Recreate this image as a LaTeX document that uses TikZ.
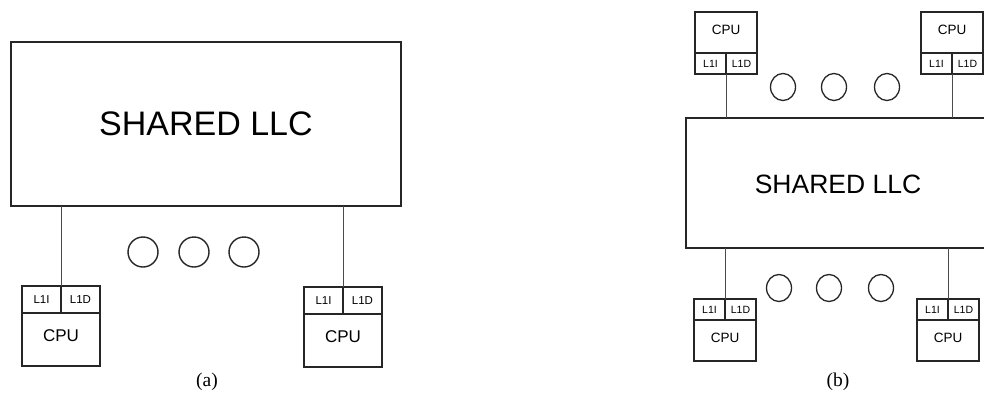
\documentclass[tikz,border=0pt]{standalone}
\usepackage{fontspec}
\setmainfont{Liberation Serif}
\newfontfamily\arialf{Liberation Sans}
\usetikzlibrary{positioning,shapes.geometric}
\begin{document}
\begin{tikzpicture}[x=1pt,y=-1pt,
  box/.style={draw=black!85, line width=1.4pt, rectangle, inner sep=0pt, outer sep=0pt, anchor=north west},
  llcA/.style={box, minimum width=390pt, minimum height=164pt, font=\arialf\fontsize{34}{40}\selectfont},
  llcB/.style={box, minimum width=320pt, minimum height=130pt, font=\arialf\fontsize{26.5}{30}\selectfont},
  cacheA/.style={box, minimum width=39pt, minimum height=27pt, font=\arialf\fontsize{11.5}{13}\selectfont},
  cpuA/.style={box, minimum width=78pt, minimum height=53pt, text depth=7pt, font=\arialf\fontsize{17}{20}\selectfont},
  cacheB/.style={box, minimum width=31pt, minimum height=21pt, font=\arialf\fontsize{10.5}{12}\selectfont},
  cpuB/.style={box, minimum width=62pt, minimum height=41pt, text depth=5pt, font=\arialf\fontsize{13.5}{16}\selectfont},
  divider/.style={draw=black!85, line width=2.4pt},
  dotA/.style={draw=black!85, line width=1.4pt, circle, minimum size=30pt, inner sep=0pt},
  dotB/.style={draw=black!85, line width=1.3pt, ellipse, minimum width=25pt, minimum height=27pt, inner sep=0pt},
  link/.style={draw=black!70, line width=0.8pt},
  caption/.style={font=\fontsize{19.5}{22}\selectfont, inner sep=0pt}
]
\useasboundingbox (0,0) rectangle (984,394);
\fill[white] (0,0) rectangle (984,394);

% ---------- (a) ----------
\node[llcA] (LA) at (11,42) {SHARED LLC};

\node[cacheA] (a1i) at (22,286) {L1I};
\node[cacheA] (a1d) at (a1i.north east) {L1D};
\node[cpuA] (a1c) at (a1i.south west) {CPU};
\draw[divider] (a1c.north west) -- (a1c.north east);

\node[cacheA] (a2i) at (304,287) {L1I};
\node[cacheA] (a2d) at (a2i.north east) {L1D};
\node[cpuA] (a2c) at (a2i.south west) {CPU};
\draw[divider] (a2c.north west) -- (a2c.north east);

\coordinate (la1) at (LA.south -| a1i.north east);
\coordinate (la2) at (LA.south -| a2i.north east);
\draw[link] (la1) -- (a1i.north east);
\draw[link] (la2) -- (a2i.north east);

\node[dotA] (ad1) at (143,252) {};
\node[dotA] (ad2) at (194,252) {};
\node[dotA] (ad3) at (244,252) {};

\node[caption] (capA) at (207,382) {(a)};

% ---------- (b) ----------
\node[llcB] (LB) at (686,118) {};
\node[font=\arialf\fontsize{26.5}{30}\selectfont, inner sep=0pt] (LBt) at (838,184) {SHARED LLC};

\node[cpuB] (b1c) at (695,12) {CPU};
\node[cacheB] (b1i) at (b1c.south west) {L1I};
\node[cacheB] (b1d) at (b1i.north east) {L1D};

\node[cpuB] (b2c) at (921,12) {CPU};
\node[cacheB] (b2i) at (b2c.south west) {L1I};
\node[cacheB] (b2d) at (b2i.north east) {L1D};

\node[cacheB] (b3i) at (694,299) {L1I};
\node[cacheB] (b3d) at (b3i.north east) {L1D};
\node[cpuB] (b3c) at (b3i.south west) {CPU};

\node[cacheB] (b4i) at (917,299) {L1I};
\node[cacheB] (b4d) at (b4i.north east) {L1D};
\node[cpuB] (b4c) at (b4i.south west) {CPU};

\coordinate (lb1) at (LB.north -| b1i.south east);
\coordinate (lb2) at (LB.north -| b2i.south east);
\coordinate (lb3) at (LB.south -| b3i.north east);
\coordinate (lb4) at (LB.south -| b4i.north east);
\draw[link] (b1i.south east) -- (lb1);
\draw[link] (b2i.south east) -- (lb2);
\draw[link] (lb3) -- (b3i.north east);
\draw[link] (lb4) -- (b4i.north east);

\node[dotB] (bt1) at (783,87) {};
\node[dotB] (bt2) at (834,87) {};
\node[dotB] (bt3) at (887,87) {};
\node[dotB] (bb1) at (779,288) {};
\node[dotB] (bb2) at (829,288) {};
\node[dotB] (bb3) at (881,288) {};

\node[caption] (capB) at (838,382) {(b)};
\end{tikzpicture}
\end{document}
